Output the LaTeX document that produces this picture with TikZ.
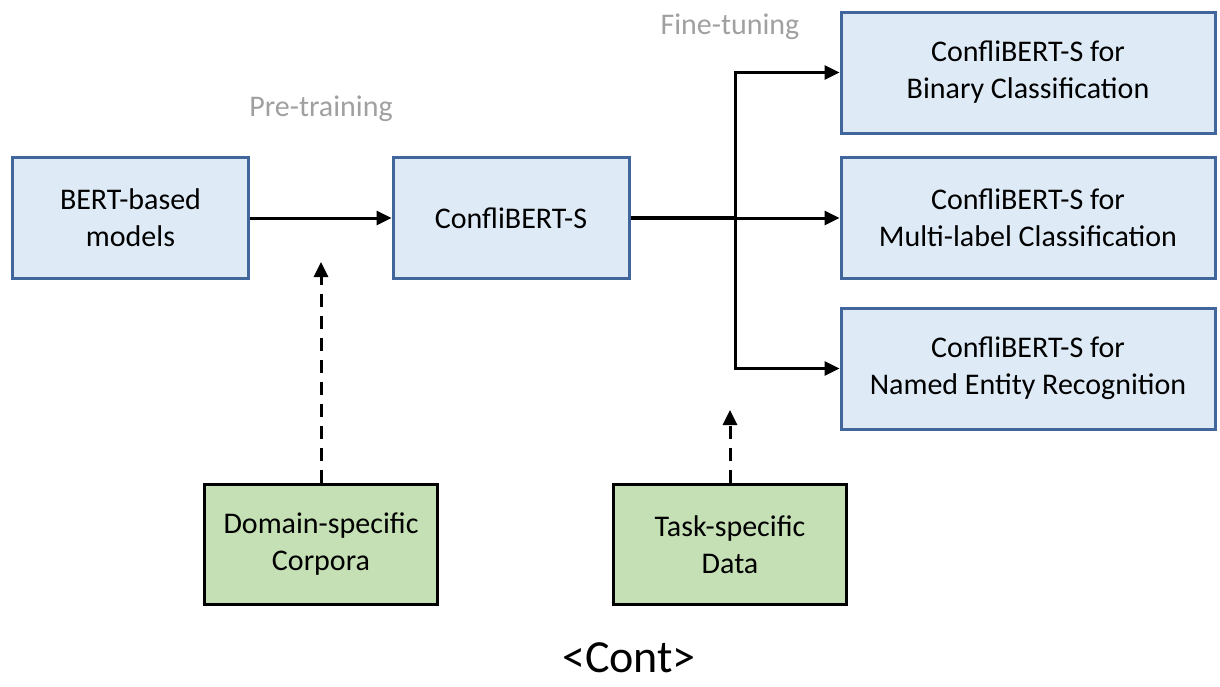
\documentclass[tikz,border=0pt]{standalone}
\usepackage{fontspec}
\setmainfont{Carlito}
\usetikzlibrary{arrows.meta}
\definecolor{boxblue}{HTML}{DEEBF7}
\definecolor{edgeblue}{HTML}{41669C}
\definecolor{boxgreen}{HTML}{C5E0B4}
\definecolor{labelgray}{HTML}{A0A0A0}
\begin{document}
\begin{tikzpicture}[x=1pt,y=-1pt,
  bluebox/.style={draw=edgeblue,fill=boxblue,line width=3pt,minimum width=236pt,minimum height=121pt,
    align=center,font=\fontsize{30}{37}\selectfont,inner sep=0pt},
  greenbox/.style={draw=black,fill=boxgreen,line width=3pt,minimum width=233pt,minimum height=120pt,
    align=center,font=\fontsize{30}{37}\selectfont,inner sep=0pt},
  flow/.style={line width=3pt,-{Triangle[length=15pt,width=14pt]}},
  feed/.style={line width=3pt,dash pattern=on 13pt off 9pt,-{Triangle[length=15pt,width=14pt]}},
  stagelabel/.style={text=labelgray,font=\fontsize{30}{34}\selectfont}]
\useasboundingbox (0,0) rectangle (1220,686);

% main chain
\node[bluebox] (bert) at (130.5,218) {BERT-based\\models};
\node[bluebox] (cbs) at (511,218) {ConfliBERT-S};

% downstream tasks
\node[bluebox,minimum width=374pt] (bin) at (1028,72.5) {ConfliBERT-S for\\Binary Classification};
\node[bluebox,minimum width=374pt] (mlc) at (1028,218) {ConfliBERT-S for\\Multi-label Classification};
\node[bluebox,minimum width=374pt] (ner) at (1028,368.5) {ConfliBERT-S for\\Named Entity Recognition};

% data sources
\node[greenbox] (corp) at (321,544.5) {Domain-specific\\Corpora};
\node[greenbox] (task) at (730,544.5) {Task-specific\\Data};

% stage labels
\node[stagelabel] (pre) at (321,109) {Pre-training};
\node[stagelabel] (fine) at (730,27) {Fine-tuning};
\node[font=\fontsize{46}{50}\selectfont,inner sep=0pt,anchor=base] (cont) at (629,672) {<Cont>};

% branching point and tips
\coordinate (split) at (735,218);
\coordinate (pretip) at (321,262);
\coordinate (finetip) at (730,410);

\draw[flow] (bert.east) -- (cbs.west);
\draw[line width=3.4pt] (cbs.east) -- (split);
\draw[flow] (split) |- (bin.west);
\draw[flow] (split) -- (mlc.west);
\draw[flow] (split) |- (ner.west);

\draw[feed] (corp.north) -- (pretip);
\draw[feed] (task.north) -- (finetip);
\end{tikzpicture}
\end{document}
